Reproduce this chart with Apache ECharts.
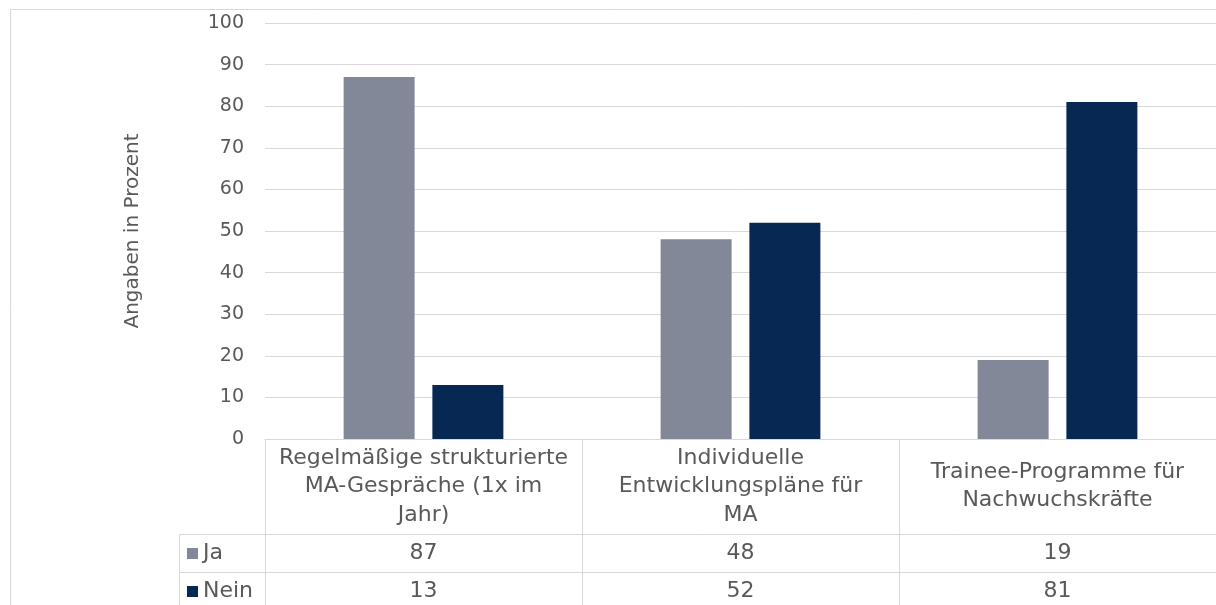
<!DOCTYPE html>
<html>
<head>
<meta charset="utf-8">
<script src="https://cdn.jsdelivr.net/npm/echarts@6/dist/echarts.min.js"></script>
<style>
html,body{margin:0;padding:0;background:#fff;}
#c{width:1216px;height:605px;}
</style>
</head>
<body>
<div id="c"></div>
<script>
const categories = ['Regelmäßige strukturierte\nMA-Gespräche (1x im\nJahr)', 'Individuelle\nEntwicklungspläne für\nMA', 'Trainee-Programme für\nNachwuchskräfte'];
const seriesNames = ['Ja', 'Nein'];
const jaValues = [87, 48, 19];
const neinValues = [13, 52, 81];
const yTicks = [0, 10, 20, 30, 40, 50, 60, 70, 80, 90, 100];

const colors = ['#838899', '#072853'];
const textColor = '#595959';
const lineColor = '#d9d9d9';
const FONT = 'DejaVu Sans';

const chart = echarts.init(document.getElementById('c'), null, {renderer: 'canvas'});

const base = {
  animation: false,
  textStyle: {fontFamily: FONT, color: textColor},
  grid: {left: 265, right: 0, top: 23, bottom: 166, containLabel: false},
  xAxis: {
    type: 'category', data: categories,
    axisLine: {show: true, lineStyle: {color: lineColor, width: 1}},
    axisTick: {show: false}, axisLabel: {show: false}, splitLine: {show: false}
  },
  yAxis: {
    type: 'value', min: yTicks[0], max: yTicks[yTicks.length - 1], interval: 10,
    name: 'Angaben in Prozent', nameLocation: 'middle', nameRotate: 90, nameGap: 122,
    nameTextStyle: {fontFamily: FONT, fontSize: 20, color: textColor},
    axisLine: {show: false}, axisTick: {show: false},
    axisLabel: {margin: 21, fontSize: 19, fontFamily: FONT, color: textColor},
    splitLine: {lineStyle: {color: lineColor, width: 1}}
  },
  series: [
    {name: seriesNames[0], type: 'bar', data: jaValues, barWidth: 71, barGap: '25%', itemStyle: {color: colors[0]}},
    {name: seriesNames[1], type: 'bar', data: neinValues, barWidth: 71, barGap: '25%', itemStyle: {color: colors[1]}}
  ]
};
chart.setOption(base);

// Build the data table below the plot using axis pixel positions
const yZero = chart.convertToPixel({gridIndex: 0}, [0, 0])[1];
const c0 = chart.convertToPixel({xAxisIndex: 0}, 0);
const c1 = chart.convertToPixel({xAxisIndex: 0}, 1);
const catW = c1 - c0;
const leftEdge = c0 - catW / 2;
const headerBottom = yZero + 95;
const rowH = 38;
const legendLeft = 179;
const W = 1216;
const fs = 22;

const g = [];
g.push({type: 'rect', shape: {x: 10.5, y: 9.5, width: 1400, height: 800}, style: {fill: 'none', stroke: lineColor, lineWidth: 1}, silent: true});
for (let r = 0; r < 3; r++) {
  const y = Math.round(headerBottom + r * rowH) + 0.5;
  g.push({type: 'line', shape: {x1: legendLeft, y1: y, x2: W, y2: y}, style: {stroke: lineColor, lineWidth: 1}});
}
g.push({type: 'line', shape: {x1: legendLeft + 0.5, y1: headerBottom, x2: legendLeft + 0.5, y2: 700}, style: {stroke: lineColor, lineWidth: 1}});
for (let i = 0; i <= categories.length; i++) {
  const x = Math.round(leftEdge + i * catW) + 0.5;
  g.push({type: 'line', shape: {x1: x, y1: yZero, x2: x, y2: 700}, style: {stroke: lineColor, lineWidth: 1}});
}
categories.forEach((cat, i) => {
  const cx = chart.convertToPixel({xAxisIndex: 0}, i);
  g.push({type: 'text', x: cx, y: (yZero + headerBottom) / 2, style: {text: cat, fontFamily: FONT, fontSize: fs, fill: textColor, align: 'center', verticalAlign: 'middle', lineHeight: 28.5}});
});
const rows = [jaValues, neinValues];
rows.forEach((vals, r) => {
  const cy = headerBottom + r * rowH + rowH / 2;
  g.push({type: 'rect', shape: {x: 187, y: cy - 5, width: 11, height: 11}, style: {fill: colors[r]}});
  g.push({type: 'text', x: 203, y: cy, style: {text: seriesNames[r], fontFamily: FONT, fontSize: fs, fill: textColor, align: 'left', verticalAlign: 'middle'}});
  vals.forEach((v, i) => {
    const cx = chart.convertToPixel({xAxisIndex: 0}, i);
    g.push({type: 'text', x: cx, y: cy, style: {text: String(v), fontFamily: FONT, fontSize: fs, fill: textColor, align: 'center', verticalAlign: 'middle'}});
  });
});
chart.setOption({graphic: g});
</script>
</body>
</html>
